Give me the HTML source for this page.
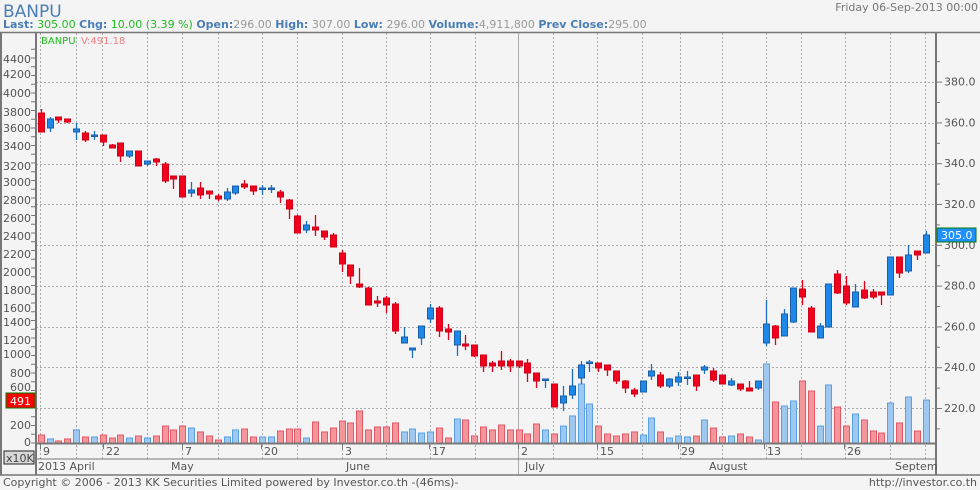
<!DOCTYPE html>
<html><head><meta charset="utf-8"><style>
body{margin:0;background:#f4f4f4;width:980px;height:490px;overflow:hidden;font-family:"DejaVu Sans","Liberation Sans",sans-serif;}
svg{position:absolute;left:0;top:0}
</style></head><body>
<svg id="s" width="980" height="490" xmlns="http://www.w3.org/2000/svg" font-family="DejaVu Sans, Liberation Sans, sans-serif">
<rect width="980" height="490" fill="#f4f4f4"/>
<text x="3" y="17" font-size="17" fill="#4a7eb5">BANPU</text>
<text x="3" y="28" font-size="11" font-weight="bold" fill="#4a7eb5">Last:<tspan fill="#22bb22" font-weight="normal"> 305.00 </tspan>Chg:<tspan fill="#22bb22" font-weight="normal"> 10.00 (3.39 %) </tspan> Open:<tspan fill="#999" font-weight="normal">296.00 </tspan>High:<tspan fill="#999" font-weight="normal"> 307.00 </tspan>Low:<tspan fill="#999" font-weight="normal"> 296.00 </tspan>Volume:<tspan fill="#999" font-weight="normal">4,911,800 </tspan> Prev Close:<tspan fill="#999" font-weight="normal">295.00</tspan></text>
<text x="978" y="11" font-size="11" fill="#777" text-anchor="end">Friday 06-Sep-2013 00:00</text>
<g id="grid"></g>
<g id="vol"></g>
<g id="cdl"></g>
<g stroke="#777" stroke-width="2" fill="none">
<line x1="0" y1="32.5" x2="980" y2="32.5" stroke-width="1.5"/>
<line x1="1" y1="32" x2="1" y2="475"/>
<line x1="36" y1="32" x2="36" y2="475"/>
<line x1="936" y1="32" x2="936" y2="475"/>
<line x1="36" y1="443.5" x2="936" y2="443.5"/>
<line x1="36" y1="459" x2="936" y2="459" stroke-width="1"/>
<line x1="0" y1="475" x2="980" y2="475" stroke-width="1.5"/>
</g>
<g id="ax" font-size="11" fill="#555"></g>
<text x="41" y="44" font-size="10" fill="#22bb22">BANPU</text><text x="81" y="44" font-size="10" fill="#f08080">V:491.18</text>
<rect x="4" y="451" width="30" height="13" fill="#d8d8d8" stroke="#222"/>
<text x="6" y="462" font-size="11" fill="#444">x10K</text>
<rect x="6" y="393" width="29" height="15" fill="#f00" stroke="#070" />
<text x="10" y="405" font-size="11" fill="#fff">491</text>
<rect x="937" y="228" width="39" height="14" fill="#1e90ff" stroke="#070"/>
<text x="941" y="239" font-size="11" fill="#fff">305.0</text>
<text x="3" y="486" font-size="11" fill="#555">Copyright © 2006 - 2013 KK Securities Limited powered by Investor.co.th -(46ms)-</text>
<text x="977" y="486" font-size="11" fill="#555" text-anchor="end">http://investor.co.th</text>
</svg>
<script>
var NS="http://www.w3.org/2000/svg";
function el(p,t,a,txt){var e=document.createElementNS(NS,t);for(var k in a)e.setAttribute(k,a[k]);if(txt!=null)e.textContent=txt;document.getElementById(p).appendChild(e);return e;}
[82,123,164,204,245,286,327,367,408].forEach(function(y){el("grid","line",{x1:36,x2:936,y1:y+.5,y2:y+.5,stroke:"#aaa","stroke-dasharray":"2,2"});});
[40,76,102,147,182,218,262,297,342,386,430,475,553,597,642,680,722,766,801,845,890,925].forEach(function(x){el("grid","line",{x1:x+.5,x2:x+.5,y1:33,y2:459,stroke:"#aaa","stroke-dasharray":"2,2"});});
el("grid","line",{x1:518.5,x2:518.5,y1:33,y2:475,stroke:"#aaa"});
for(var p=200;p<=390;p+=10){var y=408-(p-220)*2.04;if(y<34||y>443)continue;el("ax","line",{x1:936,x2:p%20==0?942:940,y1:y+.5,y2:y+.5,stroke:"#777"});if(p%20==0&&p!=300)el("ax","text",{x:944,y:y+4},p.toFixed(1));}
el("ax","text",{x:944,y:249},"300.0");
var L=[[4400,59],[4200,74],[4000,93],[3800,112],[3600,128],[3400,146],[3200,166],[3000,182],[2800,200],[2600,218],[2400,236],[2200,254],[2000,272],[1800,290],[1600,308],[1400,322],[1200,340],[1000,354],[800,373],[600,387],[200,425],[0,442]];
L.forEach(function(a){el("ax","text",{x:31,y:a[1]+4,"text-anchor":"end"},a[0]);});
for(var y=443;y>45;y-=8.75){el("ax","line",{x1:31,x2:36,y1:y,y2:y,stroke:"#777"});}
[["9",43],["22",106],["7",185],["20",264],["3",345],["17",432],["2",521],["15",600],["29",681],["13",767],["26",847]].forEach(function(a){el("ax","text",{x:a[1],y:455},a[0]);el("ax","line",{x1:a[1]-2.5,x2:a[1]-2.5,y1:443,y2:449,stroke:"#777"});});
[["2013 April",38],["May",171],["June",346],["July",525],["August",709],["Septem",895]].forEach(function(a){el("ax","text",{x:a[1],y:470},a[0]);});
var C=[[113,132,109,132,0],[119,128,117,132,1],[117,120,117,123,0],[119,122,119,123,0],[129,132,123,140,1],[133,140,131,142,0],[135,136,131,140,1],[135,142,135,146,0],[145,148,144,148,0],[143,156,143,162,0],[151,156,151,158,1],[151,166,151,166,0],[161,164,161,166,1],[159,162,158,166,0],[164,181,162,183,0],[176,179,176,189,0],[176,197,176,197,0],[190,193,182,197,1],[188,195,182,199,0],[191,194,191,199,0],[196,199,194,201,0],[192,199,188,201,1],[186,193,186,195,1],[184,187,180,189,0],[186,191,186,195,0],[188,189,185,195,1],[188,189,185,193,1],
[192,197,190,203,0],[200,209,199,219,0],[216,233,215,233,0],[225,230,221,233,1],[227,230,215,236,0],[231,237,231,240,0],[235,247,233,247,0],[253,264,250,272,0],[265,276,265,284,0],[284,287,268,288,0],[288,305,287,305,0],[301,303,296,307,0],[298,305,296,313,0],[304,331,302,334,0],[337,343,327,343,1],[348,350,348,358,1],[326,338,326,345,1],[308,319,304,323,1],[308,331,306,337,0],[329,332,324,340,0],[331,345,331,356,1],[344,346,335,350,0],[345,356,345,357,0],[355,366,355,372,0],[363,366,361,372,0],[361,366,351,370,0],[361,366,359,372,0],[361,366,361,368,0],
[363,373,359,382,0],[373,381,373,388,0],[379,380,379,388,1],[384,407,384,407,0],[396,403,386,411,1],[386,395,369,399,1],[365,378,361,384,1],[362,363,360,372,1],[363,368,363,372,0],[365,370,365,376,0],[371,381,371,384,0],[381,388,380,393,0],[390,394,388,397,0],[381,392,381,392,1],[371,376,364,380,1],[375,386,372,388,0],[379,386,378,388,1],[377,382,372,386,1],[377,378,371,385,1],[375,386,375,391,0],[367,370,365,374,1],[371,380,368,382,0],[375,384,375,384,0],[381,385,378,386,1],[384,389,384,391,0],[388,391,381,391,0],[381,388,381,390,1],
[324,343,300,346,1],[326,338,325,345,0],[314,336,309,336,1],[288,322,288,323,1],[289,297,280,305,0],[308,332,306,332,0],[326,338,323,338,1],[284,327,284,327,1],[274,293,270,294,0],[286,303,276,305,0],[292,307,284,307,1],[290,298,281,299,0],[292,297,289,299,0],[292,295,292,305,0],[257,295,257,295,1],[257,273,257,278,0],[255,271,245,273,1],[251,255,251,260,0],[235,253,231,253,1]];
var V=[91,46,23,46,149,69,69,91,57,91,57,80,57,80,194,149,194,171,126,80,34,69,149,160,69,69,69,137,160,160,57,240,126,171,251,229,366,149,183,183,229,126,160,114,126,171,57,274,263,80,183,149,206,149,149,103,217,149,103,194,309,674,446,194,103,80,103,126,91,286,126,57,80,69,80,263,171,69,80,103,69,34,903,469,423,480,709,594,194,663,411,194,331,263,137,114,457,229,526,137,491];
C.forEach(function(c,i){var x=Math.round(40.7+i*8.85);var b=c[4];
var v=V[i]||0,h=v*0.0875;
el("vol","rect",{x:x-2.5,y:443-h,width:6,height:h,fill:b?"#9ec8f0":"#f4969c",stroke:b?"#5aa0e6":"#e25a68","stroke-width":1});
el("cdl","line",{x1:x+.5,x2:x+.5,y1:c[2],y2:c[3],stroke:b?"#1c6fc0":"#e0001a","stroke-width":1.3});
var hh=Math.max(c[1]-c[0],1.5);
el("cdl","rect",{x:x-2.5,y:c[0],width:6,height:hh,fill:b?"#1e88e8":"#f0001c",stroke:b?"#1a5ea8":"#d00018","stroke-width":1});
});
</script>
</body></html>
